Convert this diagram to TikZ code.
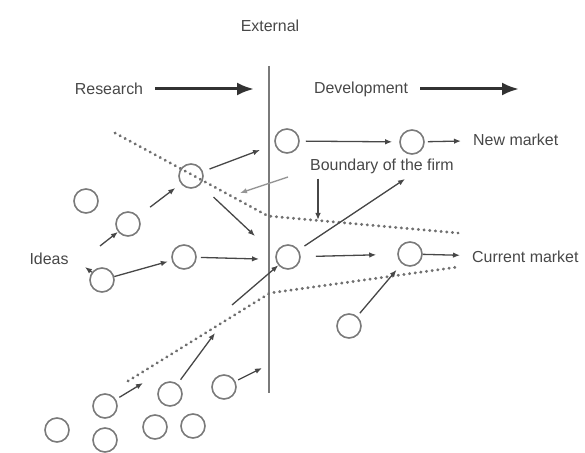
\documentclass[tikz,border=0pt]{standalone}
\usepackage{fontspec}
\setmainfont{Liberation Sans}
\usetikzlibrary{arrows.meta}
\definecolor{inkgray}{HTML}{474747}
\definecolor{ringgray}{HTML}{7A7A7A}
\definecolor{dotgray}{HTML}{707070}
\tikzset{
    idea/.style={circle, draw=ringgray, line width=1.6bp, minimum size=24bp, inner sep=0pt},
    txt/.style={text=inkgray, inner sep=0pt, font=\fontsize{16}{19}\selectfont},
    flow/.style={draw=inkgray, line width=1.3bp, -{Latex[length=7bp,width=5.5bp]}},
    bigflow/.style={draw=inkgray!70!black, line width=3bp, -{Latex[length=17bp,width=13bp]}},
    boundary/.style={draw=dotgray, line width=3bp, line cap=round, dash pattern=on 0.3bp off 5.4bp}
}

\begin{document}
\begin{tikzpicture}[x=1bp, y=-1bp]
    \useasboundingbox (0,0) rectangle (585,453);

    % headings and the firm's wall
    \node[txt] (external) at (270,26) {External};
    \node[txt] (research) at (109,89) {Research};
    \node[txt] (develop) at (361,89) {Development};
    \coordinate (resend) at (254,89);
    \coordinate (devend) at (519,89);
    \draw[bigflow, shorten <=12bp] (research) -- (resend);
    \draw[bigflow, shorten <=12bp] (develop) -- (devend);
    \coordinate (walltop) at (269,66);
    \coordinate (wallbot) at (269,393);
    \draw[ringgray, line width=1.4bp] (walltop) -- (wallbot);

    % boundary of the firm
    \draw[boundary] (115,133) -- (268,216) -- (458,233);
    \draw[boundary] (128,381) -- (270,293) -- (458,267);

    % ideas
    \node[idea] (c1) at (287,141) {};
    \node[idea] (c2) at (412,142) {};
    \node[idea] (c3) at (191,176) {};
    \node[idea] (c4) at (86,201) {};
    \node[idea] (c5) at (128,224) {};
    \node[idea] (c6) at (184,257) {};
    \node[idea] (c7) at (102,280) {};
    \node[idea] (c8) at (288,257) {};
    \node[idea] (c9) at (410,254) {};
    \node[idea] (c10) at (349,326) {};
    \node[idea] (c11) at (224,387) {};
    \node[idea] (c12) at (170,394) {};
    \node[idea] (c13) at (105,406) {};
    \node[idea] (c14) at (57,430) {};
    \node[idea] (c15) at (105,440) {};
    \node[idea] (c16) at (155,427) {};
    \node[idea] (c17) at (193,426) {};

    % markets and labels
    \node[txt, anchor=west] (newmkt) at (473,140) {New market};
    \node[txt, anchor=west] (curmkt) at (472,257) {Current market};
    \node[txt] (bnd) at (382,166) {Boundary of the firm};
    \node[txt] (ideas) at (49,259) {Ideas};

    % free ends
    \coordinate (c3up) at (260,150);
    \coordinate (c3down) at (255,236);
    \coordinate (c5in) at (100,246);
    \coordinate (c7out) at (85,267);
    \coordinate (c6out) at (259,259);
    \coordinate (c8out) at (405,179);
    \coordinate (c8in) at (232,305);
    \coordinate (c13out) at (143,383);
    \coordinate (c12out) at (215,333);
    \coordinate (c11out) at (262,368);
    \coordinate (bndtip) at (318,220);
    \coordinate (bndfrom) at (288,177);
    \coordinate (bndleft) at (240,193);

    % flows
    \draw[flow, shorten <=6bp, shorten >=7bp] (c1) -- (c2);
    \draw[flow, shorten <=3bp, shorten >=12bp] (c2) -- (newmkt);
    \draw[flow, shorten <=7bp] (c3) -- (c3up);
    \draw[flow, shorten <=18bp] (c3) -- (c3down);
    \draw[flow, shorten <=15bp, shorten >=7bp] (c5) -- (c3);
    \draw[flow] (c5in) -- (c5);
    \draw[flow, shorten >=4bp] (c7) -- (c6);
    \draw[flow] (c7) -- (c7out);
    \draw[flow, shorten <=4bp] (c6) -- (c6out);
    \draw[flow, shorten <=15bp, shorten >=21bp] (c8) -- (c9);
    \draw[flow, shorten >=12bp] (c9) -- (curmkt);
    \draw[flow, shorten <=7bp] (c8) -- (c8out);
    \draw[flow] (c8in) -- (c8);
    \draw[flow, shorten <=4bp, shorten >=8bp] (c10) -- (c9);
    \draw[flow, shorten <=4bp] (c13) -- (c13out);
    \draw[flow, shorten <=5bp] (c12) -- (c12out);
    \draw[flow, shorten <=3bp] (c11) -- (c11out);
    \draw[flow, shorten <=5bp] (bnd.south -| bndtip) -- (bndtip);
    \draw[flow, draw=ringgray!80] (bndfrom) -- (bndleft);
\end{tikzpicture}
\end{document}
